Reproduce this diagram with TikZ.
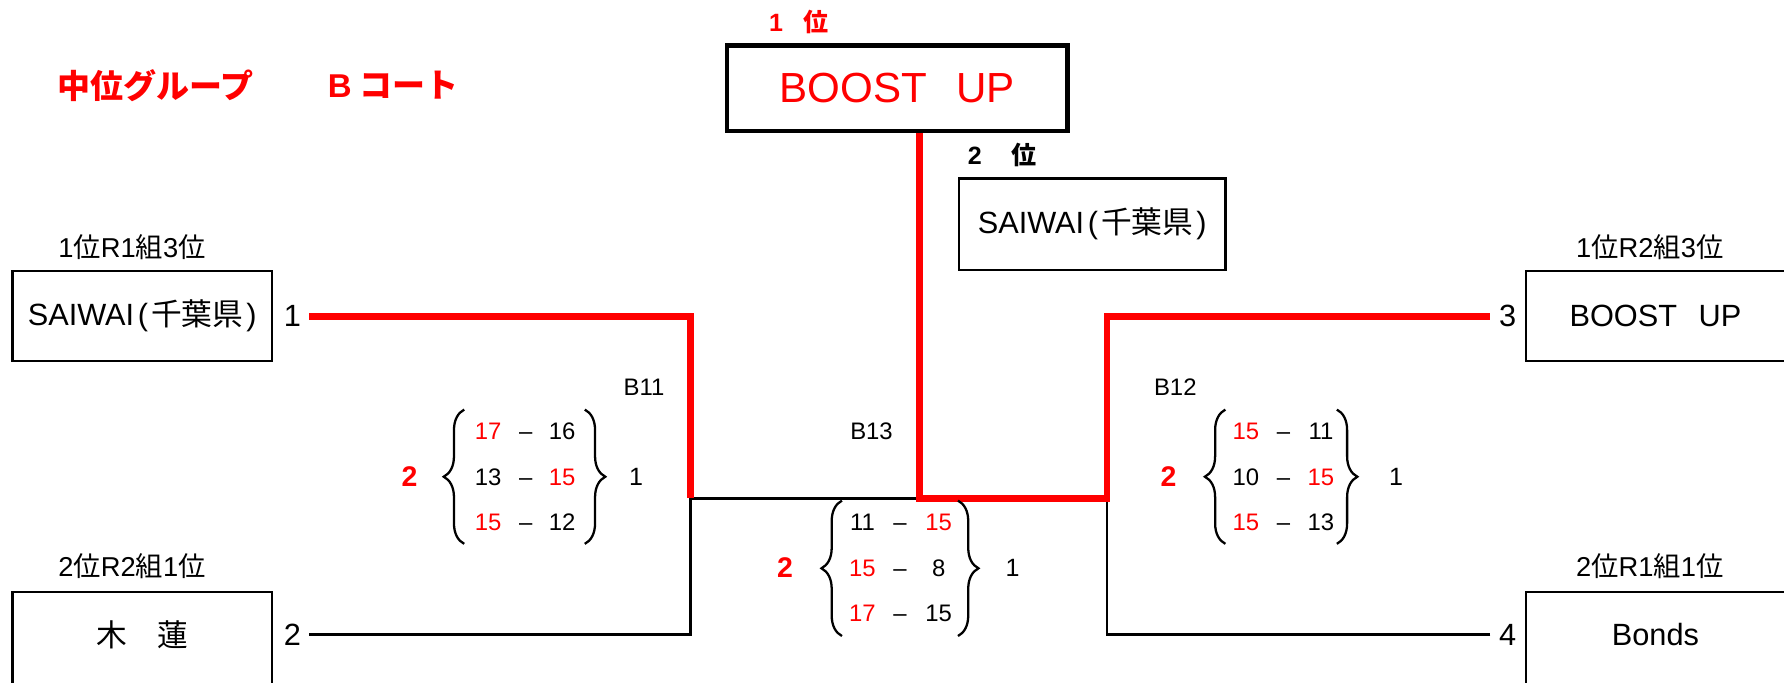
\documentclass[tikz,border=0pt]{standalone}
\usepackage{fontspec}
\setmainfont{Liberation Sans}
\newfontfamily\jp{Noto Sans CJK JP}
\usetikzlibrary{decorations.pathreplacing}

\newcommand\titlefont{\fontsize{29}{33}\selectfont\bfseries}
\newcommand\champfont{\fontsize{37}{42}\selectfont}
\newcommand\teamfont{\fontsize{27}{31}\selectfont}
\newcommand\ranktextfont{\fontsize{22}{26}\selectfont\bfseries}
\newcommand\grouptextfont{\fontsize{24}{28}\selectfont}
\newcommand\matchfont{\fontsize{21}{25}\selectfont}
\newcommand\scorefont{\fontsize{21}{25}\selectfont}
\newcommand\setwinfont{\fontsize{25}{29}\selectfont\bfseries}
\newcommand\setlosefont{\fontsize{22}{26}\selectfont}
\newcommand\chiba{\hspace{0.12em}(\hspace{0.1em}{\jp 千葉県}\hspace{0.1em})}

\tikzset{
  teambox/.style={draw, fill=white, line width=2pt, minimum width=228pt, minimum height=79pt, inner sep=0pt, font=\teamfont},
  champbox/.style={draw, fill=white, line width=4pt, minimum width=299pt, minimum height=75pt, inner sep=0pt, text=red, font=\champfont},
  titletext/.style={inner sep=0pt, text=red, font=\titlefont},
  ranktext/.style={inner sep=0pt, font=\ranktextfont},
  grouptext/.style={inner sep=0pt, font=\grouptextfont},
  teamtext/.style={inner sep=0pt, font=\teamfont},
  matchtext/.style={inner sep=0pt, font=\matchfont},
  score/.style={inner sep=0pt, text height=15pt, text depth=0pt, font=\scorefont},
  setwin/.style={inner sep=0pt, text=red, font=\setwinfont},
  setlose/.style={inner sep=0pt, font=\setlosefont},
  winline/.style={red, line width=6pt},
  loseline/.style={black, line width=2.5pt},
  scorebrace/.style={decorate, decoration={brace, amplitude=18pt}, line width=2pt},
}

\begin{document}
\begin{tikzpicture}[x=1pt,y=-1pt]
	\useasboundingbox (0,0) rectangle (1568,600);

	%bracket joints
	\coordinate (t1) at (272,278);
	\coordinate (t2) at (272,558);
	\coordinate (t3) at (1310,278);
	\coordinate (t4) at (1310,558);
	\coordinate (m11) at (607,438);
	\coordinate (m13) at (808,438);
	\coordinate (m12) at (973,438);

	%lines
	\draw[loseline] (t2) -| (m11) -- (m13);
	\draw[loseline] (t4) -| (m12);
	\draw[winline] (t1) -| (m11);
	\draw[winline] (808,110) -- (m13) -- (m12) |- (t3);

	%title
	\node[titletext, anchor=west] (group) at (50,75) {\jp 中位グループ};
	\node[titletext, anchor=west] (court) at (288,75) {B\hspace{0.25em}{\jp コート}};

	%final
	\node[ranktext, text=red] (rank1) at (702,19) {1\hspace{0.8em}{\jp 位}};
	\node[champbox] (champ) at (788.5,77.5) {BOOST\hspace{0.7em}UP};
	\node[ranktext] (rank2) at (881,136) {2\hspace{1.2em}{\jp 位}};
	\node[teambox, minimum width=234pt, minimum height=80pt] (second) at (960,197) {SAIWAI\chiba};

	%left teams
	\node[grouptext] (g1) at (116,217) {1{\jp 位}R1{\jp 組}3{\jp 位}};
	\node[teambox] (team1) at (125,277.5) {SAIWAI\chiba};
	\node[teamtext] (s1) at (257,278) {1};
	\node[grouptext] (g2) at (116,498) {2{\jp 位}R2{\jp 組}1{\jp 位}};
	\node[teambox, minimum height=90pt, anchor=north] (team2) at (125,519) {};
	\node[teamtext] (n2) at (125,558) {\jp 木　蓮};
	\node[teamtext] (s2) at (257,558) {2};

	%right teams
	\node[grouptext] (g3) at (1450,217) {1{\jp 位}R2{\jp 組}3{\jp 位}};
	\node[teambox] (team3) at (1455,277.5) {BOOST\hspace{0.7em}UP};
	\node[teamtext] (s3) at (1325,278) {3};
	\node[grouptext] (g4) at (1450,498) {2{\jp 位}R1{\jp 組}1{\jp 位}};
	\node[teambox, minimum height=90pt, anchor=north] (team4) at (1455,519) {};
	\node[teamtext] (n4) at (1455,558) {Bonds};
	\node[teamtext] (s4) at (1325,558) {4};

	%B11
	\node[matchtext] (b11) at (566,340) {B11};
	\foreach \yy/\lv/\lc/\rv/\rc [count=\i] in {379/17/red/16/black, 419/13/black/15/red, 459/15/red/12/black} {
		\node[score, text=\lc] (b11l\i) at (429,\yy) {\lv};
		\node[score] (b11d\i) at (462,\yy) {\textendash};
		\node[score, text=\rc] (b11r\i) at (494,\yy) {\rv};
	}
	\draw[scorebrace] (408,478) -- (408,360);
	\draw[scorebrace] (514,360) -- (514,478);
	\node[setwin] (b11w) at (360,419) {2};
	\node[setlose] (b11s) at (559,419) {1};

	%B12
	\node[matchtext] (b12) at (1033,340) {B12};
	\foreach \yy/\lv/\lc/\rv/\rc [count=\i] in {379/15/red/11/black, 419/10/black/15/red, 459/15/red/13/black} {
		\node[score, text=\lc] (b12l\i) at (1095,\yy) {\lv};
		\node[score] (b12d\i) at (1128,\yy) {\textendash};
		\node[score, text=\rc] (b12r\i) at (1161,\yy) {\rv};
	}
	\draw[scorebrace] (1077,478) -- (1077,360);
	\draw[scorebrace] (1175,360) -- (1175,478);
	\node[setwin] (b12w) at (1027,419) {2};
	\node[setlose] (b12s) at (1227,419) {1};

	%B13
	\node[matchtext] (b13) at (766,379) {B13};
	\foreach \yy/\lv/\lc/\rv/\rc [count=\i] in {459/11/black/15/red, 499/15/red/8/black, 539/17/red/15/black} {
		\node[score, text=\lc] (b13l\i) at (758,\yy) {\lv};
		\node[score] (b13d\i) at (791,\yy) {\textendash};
		\node[score, text=\rc] (b13r\i) at (825,\yy) {\rv};
	}
	\draw[scorebrace] (740,559) -- (740,440);
	\draw[scorebrace] (842,440) -- (842,559);
	\node[setwin] (b13w) at (690,499) {2};
	\node[setlose] (b13s) at (890,499) {1};
\end{tikzpicture}
\end{document}
